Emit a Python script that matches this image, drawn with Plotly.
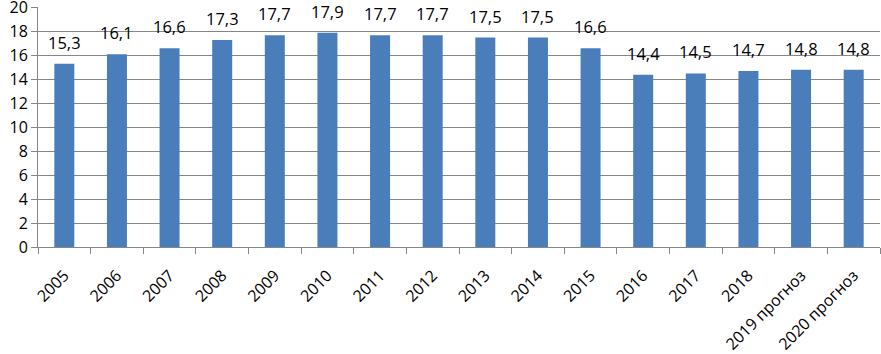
import plotly.graph_objects as go

categories = ["2005", "2006", "2007", "2008", "2009", "2010", "2011", "2012", "2013",
              "2014", "2015", "2016", "2017", "2018", "2019 прогноз", "2020 прогноз"]
values = [15.3, 16.1, 16.6, 17.3, 17.7, 17.9, 17.7, 17.7, 17.5, 17.5, 16.6, 14.4, 14.5, 14.7, 14.8, 14.8]
y_ticks = [0, 2, 4, 6, 8, 10, 12, 14, 16, 18, 20]

FONT = "Open Sans, Liberation Sans, sans-serif"

fig = go.Figure()
fig.add_trace(go.Bar(x=categories, y=values, marker=dict(color="#4a7ebb", line=dict(width=0))))

for i, v in enumerate(values):
    fig.add_annotation(x=i, y=v, xref="x", yref="y", text=f"{v:.1f}".replace(".", ","), showarrow=False,
                       yanchor="bottom", yshift=8,
                       font=dict(size=16.5, color="#000", family=FONT))

fig.update_layout(
    width=881, height=354,
    margin=dict(l=38, r=1, t=7, b=107),
    plot_bgcolor="white", paper_bgcolor="white",
    bargap=0.62, showlegend=False,
    font=dict(family=FONT, color="#000"),
    xaxis=dict(type="category", tickangle=-45, tickfont=dict(size=16),
               range=[-0.5, len(categories) - 0.5],
               showline=True, linecolor="#868686", linewidth=1,
               ticks="outside", tickson="boundaries", ticklen=6, tickcolor="#868686",
               ticklabelstandoff=12, showgrid=False),
    yaxis=dict(range=[0, 20.05], tickmode="array", tickvals=y_ticks, tickfont=dict(size=16),
               showline=True, linecolor="#868686", linewidth=1, mirror=False,
               ticks="outside", ticklen=6, tickcolor="#868686", ticklabeloverflow="allow",
               showgrid=True, gridcolor="#868686", gridwidth=1, zeroline=False,
               automargin=False),
)

fig.write_html("out.html", config={"displayModeBar": False})
with open("out.html", encoding="utf-8") as f:
    html = f.read()
html = html.replace("<body>", '<body style="margin:0;padding:0;overflow:hidden">', 1)
with open("out.html", "w", encoding="utf-8") as f:
    f.write(html)
